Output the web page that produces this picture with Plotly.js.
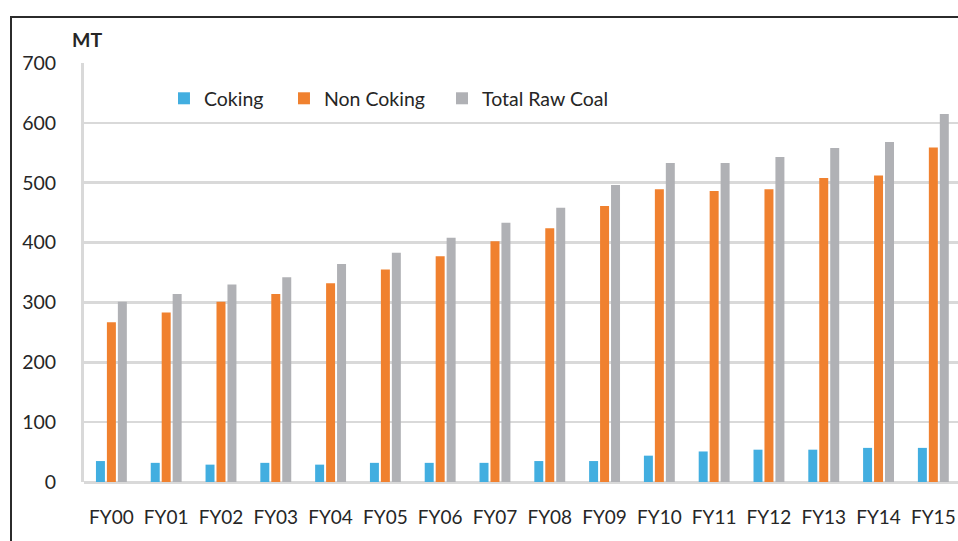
<!DOCTYPE html>
<html>
<head>
<meta charset="utf-8">
<script src="https://cdn.plot.ly/plotly-3.0.1.min.js"></script>
<style>
  html, body { margin: 0; padding: 0; background: #fff; }
  #wrap { position: relative; width: 958px; height: 541px; overflow: hidden; }
  #chart { position: absolute; left: 0; top: 0; width: 958px; height: 541px; }
  #frame {
    position: absolute; left: 10px; top: 16px; width: 1100px; height: 700px;
    border-top: 2px solid #2b2b2b; border-left: 2px solid #2b2b2b;
    pointer-events: none;
  }
</style>
</head>
<body>
<div id="wrap">
  <div id="chart"></div>
  <div id="frame"></div>
</div>
<script>
// Coal production by fiscal year, million tonnes
const years = ["FY00","FY01","FY02","FY03","FY04","FY05","FY06","FY07",
               "FY08","FY09","FY10","FY11","FY12","FY13","FY14","FY15"];
const coking    = [35, 32, 29, 32, 29, 32, 32, 32, 35, 35, 44, 51, 54, 54, 57, 57];
const nonCoking = [267, 283, 301, 314, 332, 355, 377, 402, 424, 461, 489, 486, 489, 508, 512, 559];
const totalRaw  = [301, 314, 330, 342, 364, 383, 408, 433, 458, 496, 533, 533, 543, 558, 568, 615];
const yTicks    = [0, 100, 200, 300, 400, 500, 600, 700];

const FONT = "Lato, 'Open Sans', sans-serif";
const TXT = "#262626";
const GRID = "#d9d9d9";

const traces = [
  { type: "bar", name: "Coking", x: years, y: coking,
    marker: { color: "#42aee0" }, legend: "legend" },
  { type: "bar", name: "Non Coking", x: years, y: nonCoking,
    marker: { color: "#f0812f" }, legend: "legend2" },
  { type: "bar", name: "Total Raw Coal", x: years, y: totalRaw,
    marker: { color: "#b0b1b5" }, legend: "legend3" }
];

// one single-entry legend per series so each key sits at its own spot
function legendAt(x) {
  return {
    orientation: "h",
    x: x, xanchor: "left",
    y: 0.915, yanchor: "middle",
    bgcolor: "rgba(0,0,0,0)",
    font: { family: FONT, size: 19.5, color: TXT },
    itemwidth: 30
  };
}

const layout = {
  width: 958, height: 541,
  margin: { l: 84, r: 0, t: 63, b: 59, pad: 0 },
  paper_bgcolor: "#fff", plot_bgcolor: "#fff",
  font: { family: FONT, size: 19, color: TXT },
  barmode: "group",
  bargap: 0.4,
  bargroupgap: 0.18,
  showlegend: true,
  legend: legendAt(0.0915),
  legend2: legendAt(0.2288),
  legend3: legendAt(0.4096),
  xaxis: {
    type: "category",
    range: [-0.5, 15.45],
    showgrid: false,
    showline: false,
    zeroline: false,
    ticks: "",
    ticklabelstandoff: 22,
    tickfont: { family: FONT, size: 19, color: TXT },
    fixedrange: true
  },
  yaxis: {
    range: [0, 700],
    tickvals: yTicks,
    ticktext: yTicks.map(String),
    showgrid: true,
    gridcolor: GRID,
    gridwidth: 2.5,
    zeroline: true,
    zerolinecolor: GRID,
    zerolinewidth: 3,
    showline: true,
    linecolor: GRID,
    linewidth: 3,
    ticks: "",
    ticklabelstandoff: 21,
    tickfont: { family: FONT, size: 19.5, color: TXT },
    fixedrange: true
  },
  annotations: [{
    text: "<b>MT</b>",
    xref: "paper", yref: "paper",
    x: 0, y: 1, xanchor: "left", yanchor: "bottom",
    xshift: -14, yshift: 10,
    showarrow: false,
    font: { family: FONT, size: 19.5, color: TXT }
  }]
};

Plotly.newPlot("chart", traces, layout, { displayModeBar: false, staticPlot: true });
</script>
</body>
</html>
